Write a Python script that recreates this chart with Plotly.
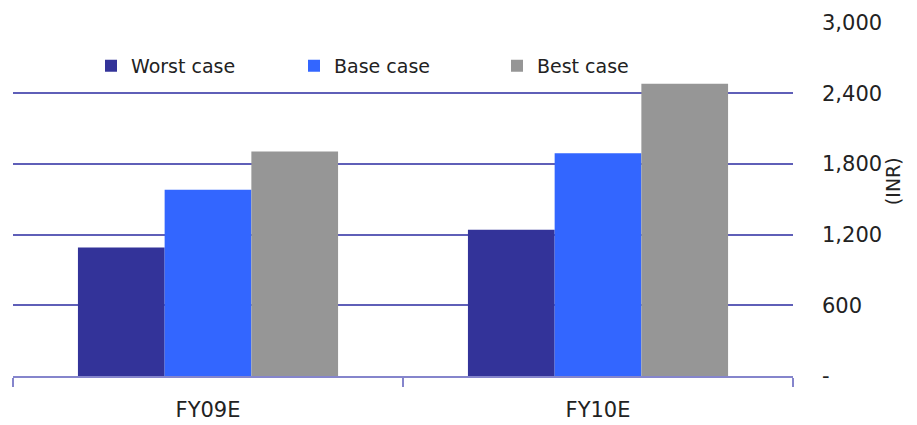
import plotly.graph_objects as go

categories = ["FY09E", "FY10E"]
worst_case = [1090, 1240]
base_case = [1580, 1890]
best_case = [1905, 2480]
series_names = ["Worst case", "Base case", "Best case"]
y_tickvals = [0, 600, 1200, 1800, 2400, 3000]
y_ticktext = ["-", "600", "1,200", "1,800", "2,400", "3,000"]
y_title = "(INR)"

colors = ["#333399", "#3366FF", "#969696"]
font_family = "DejaVu Sans, Arial, sans-serif"

fig = go.Figure()
for name, vals, col in zip(series_names, [worst_case, base_case, best_case], colors):
    fig.add_trace(go.Bar(x=categories, y=vals, name=name,
                         marker=dict(color=col, line=dict(width=0))))

fig.update_layout(
    width=917, height=425,
    margin=dict(l=13, r=124, t=22, b=49, autoexpand=False),
    paper_bgcolor="white", plot_bgcolor="white",
    barmode="group", bargap=0.333, bargroupgap=0,
    font=dict(family=font_family, size=21, color="#222222"),
    showlegend=True,
    legend=dict(orientation="h", x=0.1, xanchor="left", y=0.876, yanchor="middle",
                font=dict(size=19, color="#222222"), entrywidth=158,
                bgcolor="rgba(0,0,0,0)", traceorder="normal"),
    annotations=[dict(text=y_title, xref="paper", yref="paper", x=1.128, y=0.55,
                      xanchor="center", yanchor="middle", textangle=-90,
                      showarrow=False, font=dict(size=19, color="#222222"))],
)
fig.update_xaxes(
    automargin=False,
    showline=True, linecolor="#8585CC", linewidth=2,
    ticks="outside", tickson="boundaries", ticklen=9, tickwidth=2, tickcolor="#8585CC",
    showgrid=False, ticklabelstandoff=14,
    tickfont=dict(size=21, color="#222222"),
)
fig.update_yaxes(
    automargin=False,
    side="right", range=[0, 3004], tickvals=y_tickvals, ticktext=y_ticktext,
    showgrid=True, gridcolor="#5F5FB8", gridwidth=1.5,
    zeroline=False, showline=False, ticks="",
    ticklabelstandoff=28,
    tickfont=dict(size=21, color="#222222"),
)

fig.write_html("out.html")
